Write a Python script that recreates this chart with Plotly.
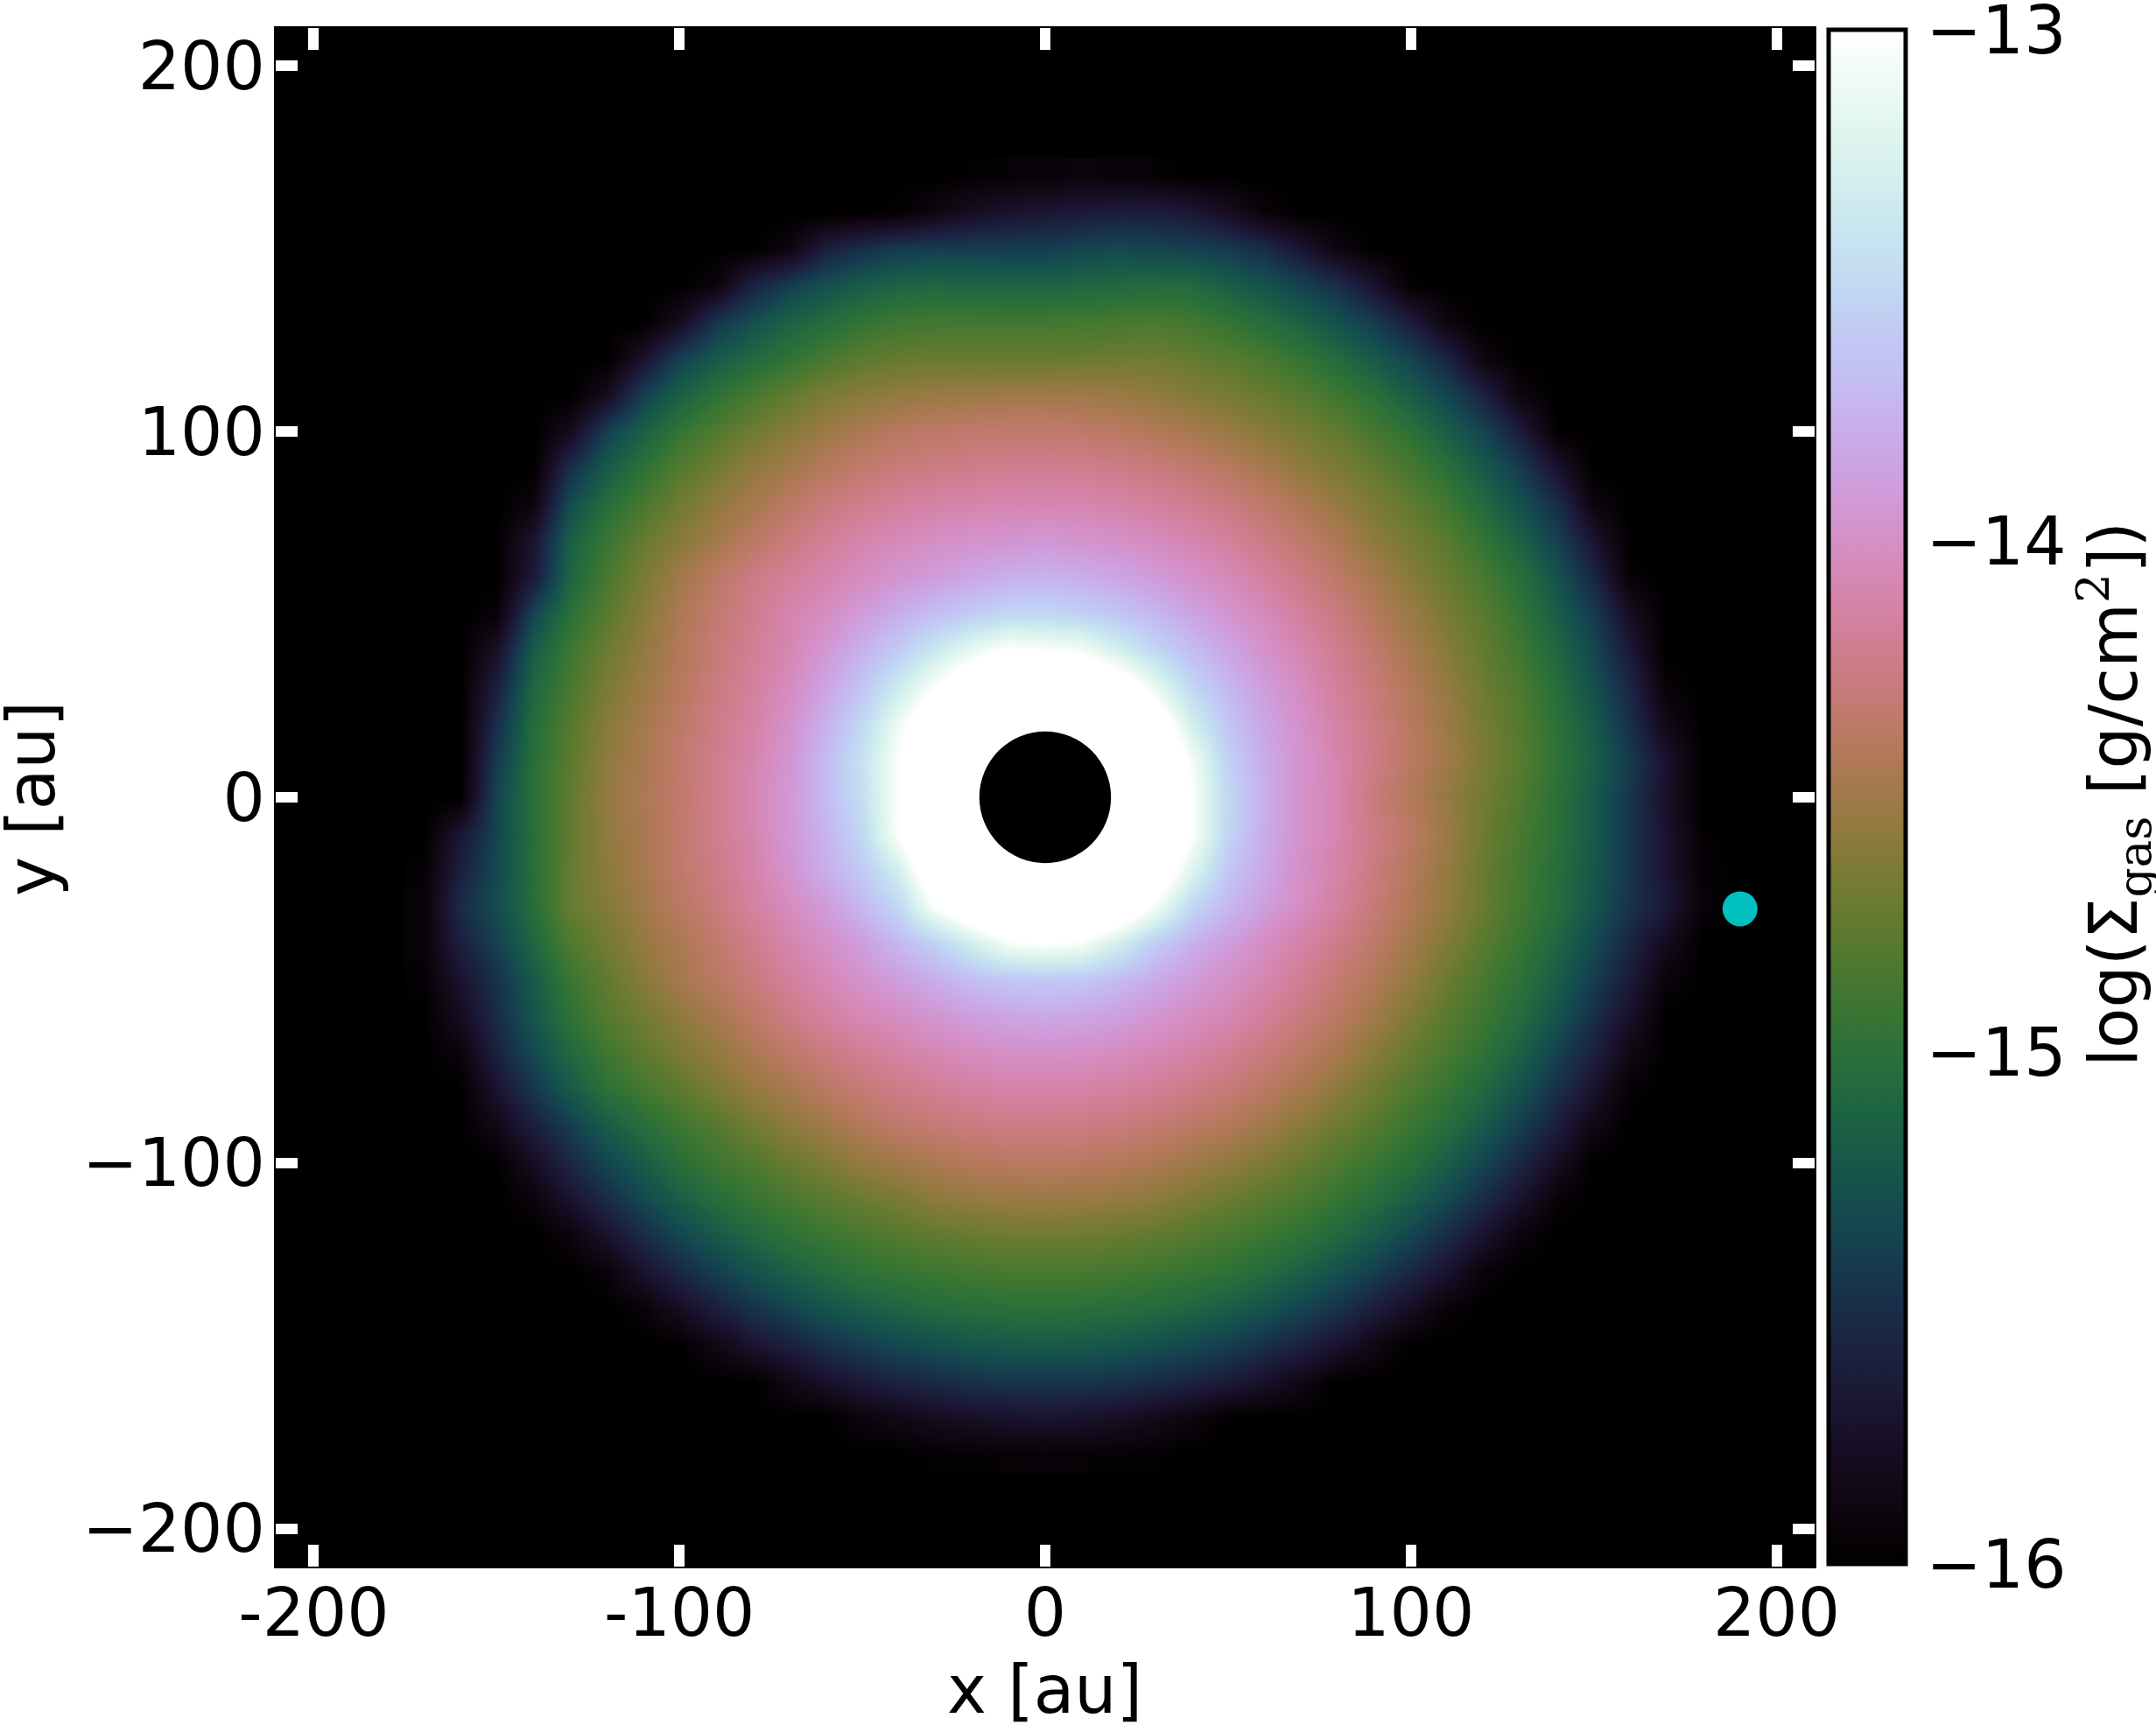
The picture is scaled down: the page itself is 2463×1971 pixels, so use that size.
import math
import plotly.graph_objects as go

# log surface density on a 10 au grid: y -> (first x, values every 10 au)
X_GRID = list(range(-170, 200, 10))
Y_GRID = list(range(-180, 180, 10))
EMPTY = -16
ROW_170 = (-20, [-15.98,-15.96,-15.94,-15.93,-15.94,-15.96])
ROW_160 = (-40, [-15.97,-15.88,-15.78,-15.72,-15.68,-15.65,-15.62,-15.62,-15.67,-15.78,-15.93])
ROW_150 = (-70, [-15.9,-15.62,-15.5,-15.42,-15.4,-15.4,-15.4,-15.4,-15.35,-15.33,-15.36,-15.38,-15.42,-15.52,-15.7,-15.9])
ROW_140 = (-90, [-15.92,-15.58,-15.4,-15.27,-15.18,-15.12,-15.1,-15.12,-15.13,-15.13,-15.1,-15.08,-15.07,-15.07,-15.17,-15.25,-15.37,-15.5,-15.72,-15.98])
ROW_130 = (-100, [-15.8,-15.45,-15.28,-15.14,-15.05,-14.96,-14.9,-14.88,-14.88,-14.88,-14.88,-14.87,-14.86,-14.84,-14.88,-14.95,-15.04,-15.14,-15.27,-15.41,-15.63,-15.9])
ROW_120 = (-110, [-15.72,-15.38,-15.2,-15.07,-14.96,-14.85,-14.77,-14.73,-14.72,-14.72,-14.72,-14.72,-14.71,-14.7,-14.69,-14.73,-14.78,-14.85,-14.95,-15.06,-15.2,-15.36,-15.58,-15.9])
ROW_110 = (-120, [-15.8,-15.38,-15.15,-14.98,-14.85,-14.73,-14.64,-14.59,-14.55,-14.52,-14.51,-14.5,-14.5,-14.5,-14.52,-14.56,-14.61,-14.66,-14.72,-14.79,-14.89,-15.01,-15.17,-15.35,-15.58,-15.9])
ROW_100 = (-130, [-15.82,-15.38,-15.15,-14.95,-14.81,-14.69,-14.6,-14.52,-14.45,-14.39,-14.36,-14.34,-14.33,-14.33,-14.35,-14.38,-14.42,-14.47,-14.53,-14.6,-14.67,-14.75,-14.86,-14.99,-15.17,-15.36,-15.63,-15.98])
ROW_90 = (-130, [-15.5,-15.2,-14.98,-14.8,-14.68,-14.57,-14.49,-14.4,-14.33,-14.28,-14.25,-14.23,-14.21,-14.2,-14.22,-14.24,-14.28,-14.33,-14.39,-14.47,-14.57,-14.65,-14.74,-14.86,-15.01,-15.2,-15.41,-15.72])
ROW_80 = (-140, [-15.9,-15.3,-15.03,-14.85,-14.69,-14.57,-14.47,-14.37,-14.28,-14.21,-14.16,-14.13,-14.1,-14.09,-14.08,-14.09,-14.12,-14.16,-14.21,-14.27,-14.35,-14.44,-14.54,-14.65,-14.75,-14.89,-15.06,-15.27,-15.5,-15.9])
ROW_70 = (-140, [-15.7,-15.15,-14.92,-14.72,-14.6,-14.49,-14.37,-14.27,-14.18,-14.1,-14.05,-14.0,-13.97,-13.95,-13.93,-13.96,-13.99,-14.03,-14.09,-14.16,-14.25,-14.34,-14.44,-14.57,-14.67,-14.78,-14.95,-15.14,-15.37,-15.7])
ROW_60 = (-140, [-15.65,-15.12,-14.85,-14.65,-14.5,-14.37,-14.25,-14.17,-14.1,-14.03,-13.95,-13.89,-13.82,-13.77,-13.75,-13.78,-13.83,-13.9,-13.98,-14.05,-14.15,-14.25,-14.36,-14.47,-14.6,-14.72,-14.85,-15.02,-15.25,-15.55,-15.96])
ROW_50 = (-150, [-15.95,-15.35,-15.0,-14.78,-14.6,-14.45,-14.32,-14.22,-14.1,-14.02,-13.9,-13.78,-13.67,-13.58,-13.5,-13.5,-13.55,-13.63,-13.72,-13.84,-13.96,-14.05,-14.17,-14.27,-14.4,-14.52,-14.66,-14.78,-14.95,-15.17,-15.41,-15.78])
ROW_40 = (-150, [-15.75,-15.18,-14.9,-14.7,-14.56,-14.42,-14.3,-14.19,-14.08,-13.93,-13.76,-13.58,-13.35,-13.12,-12.97,-13.0,-13.05,-13.28,-13.5,-13.68,-13.83,-13.98,-14.09,-14.22,-14.34,-14.47,-14.6,-14.74,-14.89,-15.09,-15.33,-15.67])
ROW_30 = (-150, [-15.6,-15.1,-14.85,-14.65,-14.52,-14.4,-14.27,-14.16,-14.03,-13.85,-13.63,-13.33,-13.0,-12.7,-12.4,-12.4,-12.5,-12.75,-13.12,-13.5,-13.72,-13.89,-14.03,-14.17,-14.29,-14.42,-14.55,-14.7,-14.83,-15.03,-15.27,-15.55,-15.95])
ROW_20 = (-150, [-15.5,-15.05,-14.8,-14.6,-14.48,-14.36,-14.24,-14.13,-13.98,-13.76,-13.5,-13.1,-12.7,-12.3,-12,-12,-12,-12.3,-12.75,-13.28,-13.63,-13.84,-13.99,-14.13,-14.26,-14.39,-14.52,-14.67,-14.8,-14.99,-15.2,-15.5,-15.85])
ROW_10 = (-150, [-15.42,-15.02,-14.77,-14.57,-14.46,-14.34,-14.22,-14.1,-13.95,-13.7,-13.42,-13.0,-12.5,-12,-12,-12,-12,-12.1,-12.55,-13.05,-13.55,-13.8,-13.97,-14.1,-14.24,-14.38,-14.5,-14.65,-14.78,-14.97,-15.17,-15.42,-15.72])
ROW_0 = (-150, [-15.35,-15.0,-14.75,-14.55,-14.45,-14.33,-14.22,-14.08,-13.93,-13.7,-13.45,-13.0,-12.5,-12,-12,-12,-12,-12,-12.5,-13.0,-13.5,-13.78,-13.98,-14.1,-14.28,-14.42,-14.55,-14.68,-14.82,-15.0,-15.2,-15.45,-15.75])
ROW_M10 = (-160, [-15.68,-15.35,-15.02,-14.74,-14.57,-14.46,-14.34,-14.22,-14.1,-13.93,-13.75,-13.5,-13.0,-12.5,-12,-12,-12,-12,-12,-12.5,-13.0,-13.52,-13.8,-13.98,-14.1,-14.25,-14.37,-14.52,-14.7,-14.85,-15.0,-15.2,-15.45,-15.72,-15.98])
ROW_M20 = (-170, [-15.97,-15.6,-15.33,-15.02,-14.73,-14.58,-14.47,-14.35,-14.24,-14.12,-13.96,-13.78,-13.6,-13.3,-12.7,-12.3,-12,-12,-12,-12.3,-12.7,-13.2,-13.62,-13.82,-14.0,-14.12,-14.27,-14.41,-14.55,-14.72,-14.87,-15.03,-15.22,-15.46,-15.7,-15.96])
ROW_M30 = (-170, [-15.95,-15.52,-15.3,-15.03,-14.72,-14.62,-14.5,-14.38,-14.28,-14.15,-14.03,-13.9,-13.72,-13.5,-13.0,-12.7,-12.45,-12.4,-12.45,-12.7,-13.05,-13.5,-13.72,-13.88,-14.02,-14.15,-14.3,-14.43,-14.56,-14.72,-14.88,-15.03,-15.24,-15.47,-15.66,-15.95])
ROW_M40 = (-170, [-15.95,-15.6,-15.38,-15.1,-14.82,-14.68,-14.55,-14.45,-14.34,-14.22,-14.1,-14.0,-13.88,-13.72,-13.55,-13.3,-13.05,-13.0,-13.05,-13.3,-13.58,-13.76,-13.88,-14.02,-14.13,-14.24,-14.36,-14.49,-14.63,-14.78,-14.93,-15.1,-15.32,-15.57,-15.82])
ROW_M50 = (-170, [-15.97,-15.72,-15.48,-15.2,-14.92,-14.75,-14.6,-14.48,-14.38,-14.28,-14.17,-14.07,-13.98,-13.88,-13.78,-13.68,-13.62,-13.6,-13.62,-13.7,-13.8,-13.9,-14.0,-14.09,-14.2,-14.31,-14.42,-14.55,-14.71,-14.85,-14.99,-15.17,-15.4,-15.65,-15.93])
ROW_M60 = (-160, [-15.8,-15.52,-15.24,-14.98,-14.8,-14.68,-14.58,-14.47,-14.36,-14.25,-14.15,-14.07,-14.02,-13.95,-13.88,-13.84,-13.82,-13.84,-13.88,-13.95,-14.02,-14.08,-14.18,-14.28,-14.38,-14.5,-14.64,-14.78,-14.91,-15.05,-15.25,-15.5,-15.75])
ROW_M70 = (-160, [-15.92,-15.6,-15.32,-15.08,-14.9,-14.76,-14.65,-14.56,-14.45,-14.36,-14.27,-14.2,-14.13,-14.08,-14.03,-14.0,-14.0,-14.0,-14.03,-14.08,-14.13,-14.2,-14.28,-14.37,-14.47,-14.6,-14.73,-14.85,-14.98,-15.15,-15.37,-15.6,-15.87])
ROW_M80 = (-150, [-15.72,-15.45,-15.2,-15.0,-14.88,-14.76,-14.65,-14.55,-14.47,-14.38,-14.3,-14.24,-14.19,-14.15,-14.12,-14.12,-14.13,-14.15,-14.19,-14.24,-14.3,-14.38,-14.47,-14.58,-14.7,-14.82,-14.94,-15.08,-15.26,-15.48,-15.72,-15.97])
ROW_M90 = (-150, [-15.85,-15.62,-15.4,-15.18,-15.03,-14.9,-14.8,-14.68,-14.58,-14.5,-14.42,-14.35,-14.31,-14.27,-14.25,-14.25,-14.26,-14.28,-14.32,-14.37,-14.42,-14.5,-14.6,-14.7,-14.8,-14.92,-15.04,-15.2,-15.4,-15.62,-15.87])
ROW_M100 = (-140, [-15.78,-15.55,-15.35,-15.18,-15.02,-14.9,-14.82,-14.72,-14.64,-14.55,-14.5,-14.45,-14.41,-14.39,-14.38,-14.39,-14.41,-14.45,-14.5,-14.56,-14.64,-14.73,-14.82,-14.92,-15.02,-15.17,-15.35,-15.55,-15.78])
ROW_M110 = (-140, [-15.93,-15.72,-15.52,-15.33,-15.17,-15.04,-14.94,-14.85,-14.78,-14.71,-14.66,-14.58,-14.55,-14.53,-14.52,-14.53,-14.55,-14.58,-14.65,-14.71,-14.78,-14.85,-14.94,-15.04,-15.17,-15.33,-15.52,-15.72,-15.95])
ROW_M120 = (-130, [-15.92,-15.72,-15.52,-15.35,-15.2,-15.08,-14.98,-14.91,-14.85,-14.8,-14.75,-14.72,-14.7,-14.7,-14.7,-14.72,-14.75,-14.8,-14.85,-14.91,-14.98,-15.08,-15.2,-15.35,-15.52,-15.72,-15.92])
ROW_M130 = (-120, [-15.94,-15.72,-15.55,-15.4,-15.26,-15.15,-15.06,-14.98,-14.94,-14.9,-14.87,-14.85,-14.85,-14.85,-14.87,-14.9,-14.94,-14.98,-15.06,-15.15,-15.26,-15.4,-15.55,-15.72,-15.94])
ROW_M140 = (-110, [-15.95,-15.78,-15.62,-15.47,-15.36,-15.25,-15.17,-15.11,-15.06,-15.03,-15.01,-15.0,-15.01,-15.03,-15.06,-15.11,-15.17,-15.25,-15.36,-15.47,-15.62,-15.78,-15.95])
ROW_M150 = (-90, [-15.87,-15.72,-15.6,-15.49,-15.4,-15.33,-15.28,-15.23,-15.21,-15.2,-15.21,-15.23,-15.28,-15.33,-15.4,-15.49,-15.6,-15.72,-15.87])
ROW_M160 = (-70, [-15.86,-15.75,-15.65,-15.58,-15.53,-15.48,-15.46,-15.45,-15.46,-15.48,-15.53,-15.58,-15.65,-15.75,-15.87])
ROW_M170 = (-50, [-15.92,-15.86,-15.8,-15.76,-15.73,-15.72,-15.73,-15.77,-15.83,-15.9])
ROW_M180 = (-30, [-15.98,-15.97,-15.96,-15.95,-15.96,-15.97,-15.98])
ROWS_BOTTOM_UP = [ROW_M180, ROW_M170, ROW_M160, ROW_M150, ROW_M140, ROW_M130, ROW_M120, ROW_M110, ROW_M100,
                  ROW_M90, ROW_M80, ROW_M70, ROW_M60, ROW_M50, ROW_M40, ROW_M30, ROW_M20, ROW_M10, ROW_0,
                  ROW_10, ROW_20, ROW_30, ROW_40, ROW_50, ROW_60, ROW_70, ROW_80, ROW_90, ROW_100, ROW_110,
                  ROW_120, ROW_130, ROW_140, ROW_150, ROW_160, ROW_170]

PLANET_X = [190]
PLANET_Y = [-30.5]
HOLE_RADIUS = 18
TICKS = [-200, -100, 0, 100, 200]
X_TICK_TEXT = ["-200", "-100", "0", "100", "200"]
Y_TICK_TEXT = ["\u2212200", "\u2212100", "0", "100", "200"]
CBAR_TICKS = [-16, -15, -14, -13]
CBAR_TEXT = ["\u221216", "\u221215", "\u221214", "\u221213"]
XLABEL = "x [au]"
YLABEL = "y [au]"
CBAR_LABEL = ("log(\u03a3<sub><span style=\"font-family:'DejaVu Serif'\">gas</span></sub>"
              " [g/cm<sup><span style=\"font-family:'DejaVu Serif'\">2</span></sup>])")

Z = []
for start, vals in ROWS_BOTTOM_UP:
    lead = (start + 170) // 10 if vals else 0
    row = [EMPTY] * lead + vals
    Z.append(row + [EMPTY] * (len(X_GRID) - len(row)))


def cubehelix_scale(n=48):
    stops = []
    for i in range(n + 1):
        t = i / n
        a = t * (1 - t) / 2
        phi = 2 * math.pi * (0.5 / 3 - 1.5 * t)
        c, s = math.cos(phi), math.sin(phi)
        r = t + a * (-0.14861 * c + 1.78277 * s)
        g = t + a * (-0.29227 * c - 0.90649 * s)
        b = t + a * (1.97294 * c)
        rgb = [round(255 * min(1, max(0, v))) for v in (r, g, b)]
        stops.append([t, f"rgb({rgb[0]},{rgb[1]},{rgb[2]})"])
    return stops


W, H = 2463, 1971
L, R, T, B = 315, 2073, 32, 1790
FONT = "DejaVu Sans"
FS = 76

fig = go.Figure()
fig.add_trace(go.Heatmap(
    x=X_GRID, y=Y_GRID, z=Z, zsmooth="best", zmin=-16, zmax=-13,
    colorscale=cubehelix_scale(), hoverinfo="skip",
    colorbar=dict(
        xref="container", yref="container",
        x=2089 / W, xanchor="left", xpad=0,
        y=(H - 1787) / H, yanchor="bottom", ypad=0,
        lenmode="pixels", len=1753, thicknessmode="pixels", thickness=88,
        outlinecolor="black", outlinewidth=5, borderwidth=0,
        tickvals=CBAR_TICKS, ticktext=CBAR_TEXT, ticks="outside", ticklen=6,
        ticklabeloverflow="allow",
        tickcolor="rgba(0,0,0,0)", tickfont=dict(family=FONT, size=FS, color="black"),
    ),
))
fig.add_trace(go.Scatter(
    x=PLANET_X, y=PLANET_Y, mode="markers", showlegend=False, hoverinfo="skip",
    marker=dict(color="#00BFBF", size=40, line=dict(width=0)),
))

axis = dict(
    range=[-210.4, 210.4], tickvals=TICKS, ticks="inside", ticklen=25, tickwidth=12,
    tickcolor="white", showline=True, linecolor="black", linewidth=2, mirror="ticks",
    showgrid=False, zeroline=False, tickfont=dict(family=FONT, size=FS, color="black"),
    automargin=False,
)
fig.update_layout(
    width=W, height=H, autosize=False, margin=dict(l=0, r=0, t=0, b=0, pad=0, autoexpand=False),
    paper_bgcolor="white", plot_bgcolor="black", showlegend=False,
    xaxis=dict(axis, domain=[L / W, R / W], ticktext=X_TICK_TEXT, ticklabelstandoff=-14),
    yaxis=dict(axis, domain=[1 - B / H, 1 - T / H], ticktext=Y_TICK_TEXT, ticklabelstandoff=-5),
    shapes=[dict(type="circle", xref="x", yref="y", x0=-HOLE_RADIUS, x1=HOLE_RADIUS,
                 y0=-HOLE_RADIUS, y1=HOLE_RADIUS, fillcolor="black", line=dict(width=0),
                 layer="above")],
    annotations=[
        dict(text=XLABEL, xref="paper", yref="paper", x=1193 / W, y=1 - 1930 / H,
             showarrow=False, xanchor="center", yanchor="middle",
             font=dict(family=FONT, size=FS, color="black")),
        dict(text=YLABEL, xref="paper", yref="paper", x=36 / W, y=1 - 913 / H,
             textangle=-90, showarrow=False, xanchor="center", yanchor="middle",
             font=dict(family=FONT, size=FS, color="black")),
        dict(text=CBAR_LABEL, xref="paper", yref="paper", x=2415 / W, y=1 - 908 / H,
             textangle=-90, showarrow=False, xanchor="center", yanchor="middle",
             font=dict(family=FONT, size=FS, color="black")),
    ],
)
fig.write_html("out.html", config={"displayModeBar": False},
               post_script="document.body.style.margin='0';document.documentElement.style.overflow='hidden';")
